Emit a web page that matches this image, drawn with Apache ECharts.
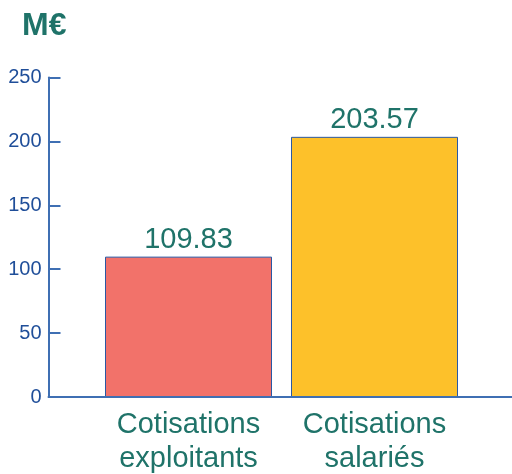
<!DOCTYPE html>
<html><head><meta charset="utf-8">
<script src="https://cdn.jsdelivr.net/npm/echarts@6/dist/echarts.min.js"></script>
<style>html,body{margin:0;padding:0;background:#fff}#c{width:512px;height:474px}</style>
</head><body><div id="c"></div>
<script>
const title = 'M€';
const categories = ['Cotisations\nexploitants', 'Cotisations\nsalariés'];
const values = [109.83, 203.57];
const barColors = ['#f2726a', '#fdc12a'];
const yTicks = [0, 50, 100, 150, 200, 250];

const teal = '#1f7369';
const axisBlue = '#3f6fb3';
const labelBlue = '#1f4e99';
const font = 'Liberation Sans, Arial, sans-serif';

const chart = echarts.init(document.getElementById('c'), null, {renderer: 'canvas'});
chart.setOption({
  animation: false,
  title: {text: title, left: 17, top: 5, textStyle: {color: teal, fontSize: 32, fontWeight: 'bold', fontFamily: font}},
  grid: [
    {left: 48.5, right: 0, top: 77.5, bottom: 77, containLabel: false, outerBoundsMode: 'none'},
    {left: 95.5, width: 372, top: 77.5, bottom: 77, containLabel: false, outerBoundsMode: 'none'}
  ],
  xAxis: [
    {gridIndex: 0, type: 'value', min: 0, max: 1, axisLine: {show: true, onZero: false, lineStyle: {color: axisBlue, width: 2}},
     axisTick: {show: false}, axisLabel: {show: false}, splitLine: {show: false}, z: 5},
    {gridIndex: 1, type: 'category', data: categories, axisLine: {show: false}, axisTick: {show: false},
     axisLabel: {interval: 0, hideOverlap: false, color: teal, fontSize: 29, fontFamily: font, lineHeight: 34, margin: 11}}
  ],
  yAxis: [
    {gridIndex: 0, type: 'value', min: yTicks[0], max: yTicks[yTicks.length - 1], interval: 50,
     axisLine: {show: true, lineStyle: {color: axisBlue, width: 2}},
     axisTick: {show: true, inside: true, length: 12, lineStyle: {color: axisBlue, width: 2}},
     axisLabel: {color: labelBlue, fontSize: 20, fontFamily: font, margin: 7},
     splitLine: {show: false}},
    {gridIndex: 1, type: 'value', min: yTicks[0], max: yTicks[yTicks.length - 1], show: false, splitLine: {show: false}}
  ],
  series: [{
    type: 'bar', xAxisIndex: 1, yAxisIndex: 1,
    barWidth: 167,
    data: values.map((v, i) => ({value: v, itemStyle: {color: barColors[i]}})),
    itemStyle: {borderColor: '#2a58a3', borderWidth: 1},
    label: {show: true, position: 'top', distance: 2, color: teal, fontSize: 29, fontFamily: font,
      formatter: p => p.value.toFixed(2)}
  }]
});
</script></body></html>
